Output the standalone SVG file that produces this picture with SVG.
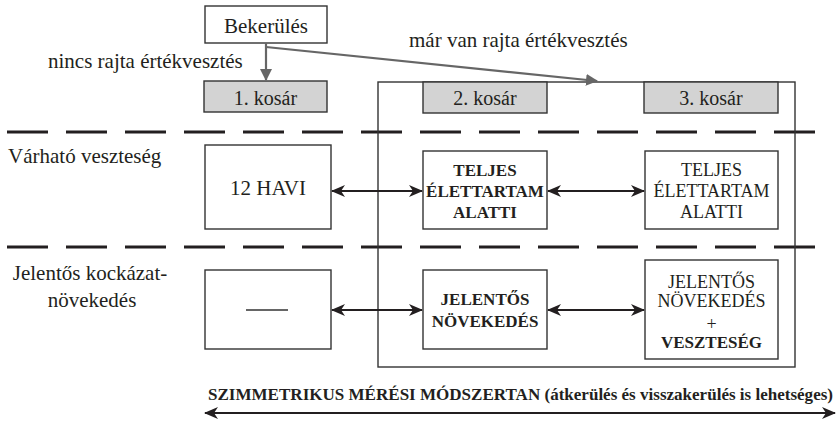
<svg xmlns="http://www.w3.org/2000/svg" width="836" height="421" viewBox="0 0 836 421" font-family="Liberation Serif">
<defs>
<style>
text{fill:#231f20;font-family:"Liberation Serif",serif}
.lbl{font-size:21px}
.kos-t{font-size:20px}
.reg{font-size:18px}
.bold{font-size:17px;font-weight:bold}
.box{fill:#fff;stroke:#333;stroke-width:1.4}
.kos{fill:#d3d3d3;stroke:#333;stroke-width:1.4}
.dash{stroke:#231f20;stroke-width:3;stroke-dasharray:41 18;fill:none}
.conn{stroke:#231f20;stroke-width:2.2;fill:none}
.gray{stroke:#666;stroke-width:2.2;fill:none}
</style>
<marker id="ah" markerUnits="userSpaceOnUse" markerWidth="14" markerHeight="12" viewBox="0 0 14 12" refX="13" refY="6" orient="auto-start-reverse">
<path d="M0,0 L14,6 L0,12 L4,6 Z" fill="#231f20"/>
</marker>
<marker id="gh" markerUnits="userSpaceOnUse" markerWidth="12" markerHeight="12" viewBox="0 0 12 12" refX="11" refY="6" orient="auto">
<path d="M0,0 L12,6 L0,12 Z" fill="#666"/>
</marker>
</defs>
<g id="dashes">
<line class="dash" x1="7" y1="132" x2="822" y2="132"/>
<line class="dash" x1="7" y1="247" x2="822" y2="247"/>
</g>
<g id="frame">
<rect x="378" y="82" width="417" height="285" fill="none" stroke="#333" stroke-width="1.4"/>
</g>
<g id="labels">
<text class="lbl" x="48" y="68">nincs rajta értékvesztés</text>
<text class="lbl" x="409" y="47">már van rajta értékvesztés</text>
<text class="lbl" x="8" y="163">Várható veszteség</text>
<text class="lbl" x="90" y="280" text-anchor="middle">Jelentős kockázat-</text>
<text class="lbl" x="92" y="307" text-anchor="middle">növekedés</text>
<text x="208" y="400" font-size="16" font-weight="bold" textLength="625" lengthAdjust="spacingAndGlyphs">SZIMMETRIKUS MÉRÉSI MÓDSZERTAN (átkerülés és visszakerülés is lehetséges)</text>
</g>
<g id="bekerules">
<rect class="box" x="205" y="6" width="122" height="37"/>
<text class="lbl" x="266" y="33" text-anchor="middle">Bekerülés</text>
</g>
<g id="kosar1">
<rect class="kos" x="204" y="81" width="123" height="31"/>
<text class="kos-t" x="265.5" y="105" text-anchor="middle">1. kosár</text>
</g>
<g id="kosar2">
<rect class="kos" x="423" y="82" width="124" height="31"/>
<text class="kos-t" x="485" y="105" text-anchor="middle">2. kosár</text>
</g>
<g id="kosar3">
<rect class="kos" x="644" y="82" width="134" height="31"/>
<text class="kos-t" x="711" y="105" text-anchor="middle">3. kosár</text>
</g>
<g id="havi12">
<rect class="box" x="205" y="145" width="126" height="84"/>
<text class="lbl" x="268" y="195" text-anchor="middle">12 HAVI</text>
</g>
<g id="teljes2">
<rect class="box" x="423" y="151" width="124" height="78"/>
<text class="bold" x="485" y="176" text-anchor="middle">TELJES</text>
<text class="bold" x="485" y="197" text-anchor="middle">ÉLETTARTAM</text>
<text class="bold" x="485" y="218" text-anchor="middle">ALATTI</text>
</g>
<g id="teljes3">
<rect class="box" x="645" y="151" width="133" height="78"/>
<text class="reg" x="711.5" y="176" text-anchor="middle">TELJES</text>
<text class="reg" x="711.5" y="197" text-anchor="middle">ÉLETTARTAM</text>
<text class="reg" x="711.5" y="218" text-anchor="middle">ALATTI</text>
</g>
<g id="ures">
<rect class="box" x="205" y="270" width="126" height="79"/>
<line x1="246" y1="310" x2="288" y2="310" stroke="#333" stroke-width="1.4"/>
</g>
<g id="jelentos2">
<rect class="box" x="423" y="270" width="124" height="79"/>
<text class="bold" x="485" y="305" text-anchor="middle">JELENTŐS</text>
<text class="bold" x="485" y="327" text-anchor="middle">NÖVEKEDÉS</text>
</g>
<g id="jelentos3">
<rect class="box" x="645" y="260" width="133" height="99"/>
<text class="reg" x="711.5" y="288" text-anchor="middle">JELENTŐS</text>
<text class="reg" x="711.5" y="307" text-anchor="middle">NÖVEKEDÉS</text>
<text class="reg" x="711.5" y="330" text-anchor="middle">+</text>
<text class="bold" x="711.5" y="348" text-anchor="middle">VESZTESÉG</text>
</g>
<g id="connectors">
<line class="gray" x1="266" y1="43" x2="266" y2="80" marker-end="url(#gh)"/>
<line class="gray" x1="266" y1="47" x2="597" y2="81" marker-end="url(#gh)"/>
<line class="conn" x1="332" y1="191" x2="422" y2="191" marker-start="url(#ah)" marker-end="url(#ah)"/>
<line class="conn" x1="548" y1="191" x2="644" y2="191" marker-start="url(#ah)" marker-end="url(#ah)"/>
<line class="conn" x1="332" y1="310" x2="422" y2="310" marker-start="url(#ah)" marker-end="url(#ah)"/>
<line class="conn" x1="548" y1="310" x2="644" y2="310" marker-start="url(#ah)" marker-end="url(#ah)"/>
<line class="conn" x1="205" y1="413" x2="835" y2="413" marker-start="url(#ah)" marker-end="url(#ah)"/>
</g>
</svg>
